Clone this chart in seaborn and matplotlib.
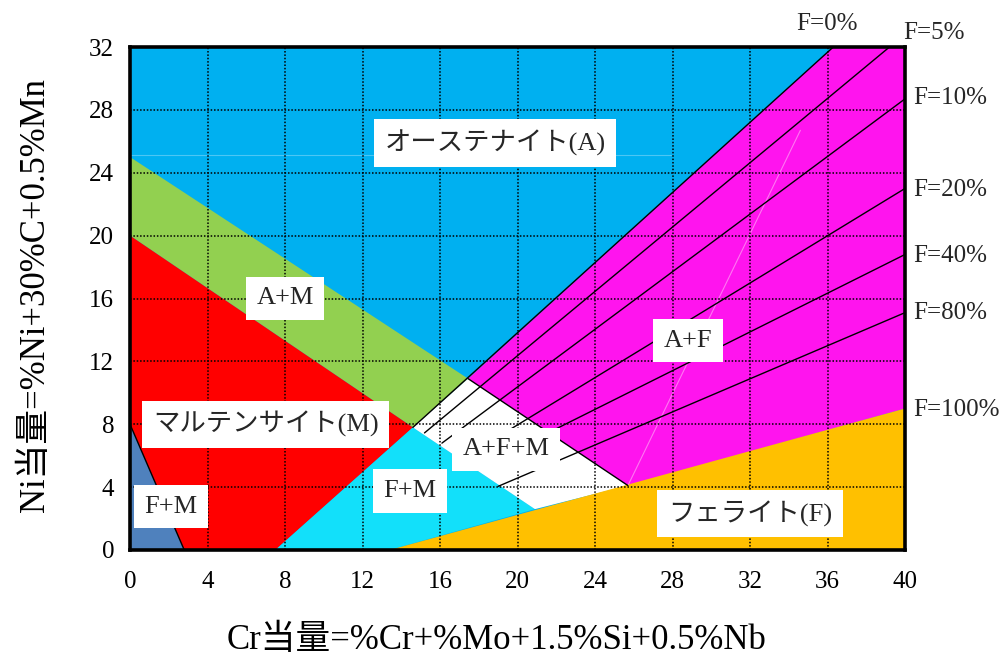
import matplotlib
matplotlib.use("Agg")
import matplotlib.pyplot as plt
import numpy as np
import pandas as pd
import seaborn as sns

# Phase boundaries of the Schaeffler diagram (Cr equivalent, Ni equivalent)
am_cr = [0, 17.45, 14.6, 0]
am_ni = [25, 10.9, 7.8, 20]
m_cr = [0, 14.6, 7.5, 0]
m_ni = [20, 7.8, 0, 0]
fm_corner_cr = [0, 0, 2.8]
fm_corner_ni = [0, 8, 0]
fm_cr = [7.5, 14.6, 20.9, 13.4]
fm_ni = [0, 7.8, 2.6, 0]
afm_cr = [14.6, 17.45, 25.7, 20.9]
afm_ni = [7.8, 10.9, 4.1, 2.6]
af_cr = [17.45, 36.3, 40, 40, 25.7]
af_ni = [10.9, 32, 32, 9, 4.1]
f_cr = [13.4, 40, 40]
f_ni = [0, 9, 0]

# F=0% boundary and A+F+M / A+F boundary
f0_cr = [14.6, 36.3]
f0_ni = [7.8, 32]
afm_edge_cr = [17.45, 25.7]
afm_edge_ni = [10.9, 4.1]
fm_edge_cr = [0, 2.8]
fm_edge_ni = [8, 0]

# Iso-ferrite lines
ferrite_pct = [5, 10, 20, 40, 80]
iso_start_cr = [15.2, 16.1, 18.5, 20.5, 19.0]
iso_start_ni = [7.45, 6.8, 6.83, 6.79, 4.05]
iso_end_cr = [39.2, 40, 40, 40, 40]
iso_end_ni = [32, 28.7, 23.0, 18.8, 15.1]

# Labels of the ferrite-content lines
f_label_text = ["F=0%", "F=5%", "F=10%", "F=20%", "F=40%", "F=80%", "F=100%"]
f_label_cr = [34.4, 39.9, 40.4, 40.4, 40.4, 40.4, 40.4]
f_label_ni = [33.45, 32.9, 28.75, 22.9, 18.7, 15.1, 8.9]

# Phase-field labels
phase_text = ["オーステナイト(A)", "A+M", "A+F", "マルテンサイト(M)",
              "A+F+M", "F+M", "F+M", "フェライト(F)"]
phase_cr = [18.84, 8.0, 28.8, 7.0, 19.4, 2.1, 14.45, 32.0]
phase_ni = [25.9, 16.0, 13.3, 8.0, 6.4, 2.75, 3.75, 2.3]

x_ticks = list(range(0, 41, 4))
y_ticks = list(range(0, 33, 4))

sns.set_theme(style="white")
plt.rcParams["font.family"] = ["Liberation Serif", "Noto Sans CJK JP"]

fig = plt.figure(figsize=(10.01, 6.59), dpi=100)
ax = fig.add_axes([130 / 1001, 1 - 550 / 659, 775 / 1001, 503 / 659])
ax.set_facecolor("#00B0F0")

ax.fill(am_cr, am_ni, color="#92D050", lw=0, zorder=1)
ax.fill(m_cr, m_ni, color="#FF0000", lw=0, zorder=1)
ax.fill(fm_corner_cr, fm_corner_ni, color="#4F81BD", lw=0, zorder=1)
ax.fill(fm_cr, fm_ni, color="#12E0FA", lw=0, zorder=1)
ax.fill(afm_cr, afm_ni, color="white", lw=0, zorder=1)
ax.fill(af_cr, af_ni, color="#FF14EE", lw=0, zorder=1)
ax.fill(f_cr, f_ni, color="#FFC000", lw=0, zorder=1)

# faint streaks in the fills
ax.plot([0, 27.9], [25.1, 25.1], color="#7FD6F8", lw=0.8, alpha=0.6, zorder=1.2)
ax.plot([25.7, 34.6], [4.1, 26.7], color="#FFB8F6", lw=0.8, alpha=0.6, zorder=1.2)

for cr, ni in [(f0_cr, f0_ni), (afm_edge_cr, afm_edge_ni), (fm_edge_cr, fm_edge_ni)]:
    sns.lineplot(x=cr, y=ni, color="black", lw=1.0, ax=ax, zorder=2.6)

iso = pd.DataFrame({
    "cr": iso_start_cr + iso_end_cr,
    "ni": iso_start_ni + iso_end_ni,
    "pct": ferrite_pct + ferrite_pct,
})
sns.lineplot(data=iso, x="cr", y="ni", units="pct", estimator=None,
             color="black", lw=1.0, ax=ax, zorder=2.6, legend=False)

ax.set_xlim(0, 40)
ax.set_ylim(0, 32)
ax.set_xticks(x_ticks)
ax.set_yticks(y_ticks)
ax.set_axisbelow(False)
ax.grid(True, color="black", lw=1.1, linestyle=(0, (1, 1.2)), zorder=2.5)
ax.tick_params(length=0, labelsize=18)
ax.tick_params(axis="x", pad=15)
ax.tick_params(axis="y", pad=11.5)
for s in ax.spines.values():
    s.set_visible(True)
    s.set_color("black")
    s.set_linewidth(2.6)
    s.set_zorder(5)

box = dict(boxstyle="square,pad=0.4", fc="white", ec="none")
for t, cr, ni in zip(phase_text, phase_cr, phase_ni):
    ax.text(cr, ni, t, fontsize=19, ha="center", va="center", bbox=box, zorder=4)

for t, cr, ni in zip(f_label_text, f_label_cr, f_label_ni):
    ax.text(cr, ni, t, fontsize=18, ha="left", va="center", clip_on=False, zorder=4)

ax.set_xlabel("Cr当量=%Cr+%Mo+1.5%Si+0.5%Nb", fontsize=25, color="black")
ax.set_ylabel("Ni当量=%Ni+30%C+0.5%Mn", fontsize=25, color="black")
ax.xaxis.set_label_coords((497 - 130) / 775, (550 - 640) / 503)
ax.xaxis.label.set_va("center")
ax.yaxis.set_label_coords((35 - 130) / 775, (550 - 295) / 503)
ax.yaxis.label.set_va("center")
for lbl in ax.get_xticklabels() + ax.get_yticklabels():
    lbl.set_color("black")

fig.savefig("out.png", dpi=100, facecolor="white")
